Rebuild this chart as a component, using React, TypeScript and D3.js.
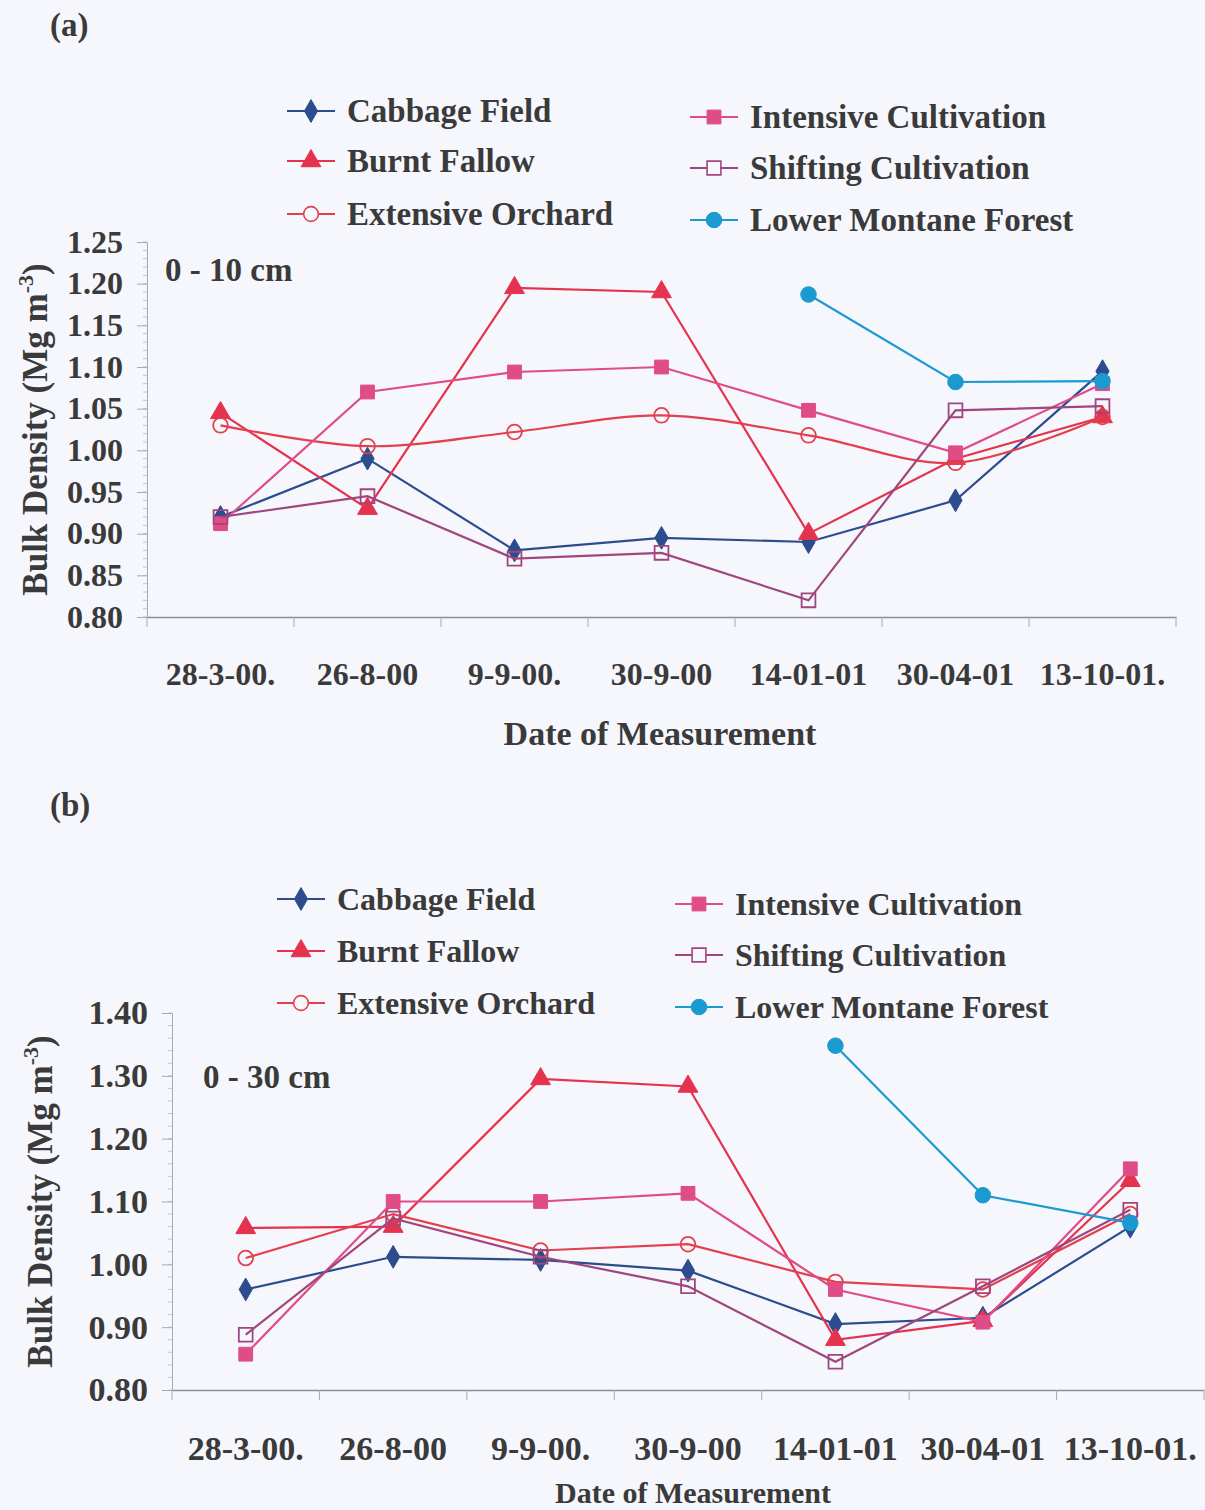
import React, { useEffect, useRef } from "react";
import * as d3 from "d3";

// measurement dates (x categories)
const dates = ["28-3-00.", "26-8-00", "9-9-00.", "30-9-00", "14-01-01", "30-04-01", "13-10-01."];

// panel (a) 0 - 10 cm
const cabbageA = [0.92, 0.99, 0.88, 0.895, 0.89, 0.94, 1.095];
const burntA = [1.045, 0.93, 1.195, 1.19, 0.90, 0.99, 1.04];
const orchardA = [1.03, 1.005, 1.022, 1.042, 1.018, 0.985, 1.04];
const intensiveA = [0.912, 1.07, 1.094, 1.10, 1.048, 0.997, 1.08];
const shiftingA = [0.92, 0.945, 0.87, 0.877, 0.82, 1.048, 1.053];
const forestA = [null, null, null, null, 1.187, 1.082, 1.083];
const yTicksA = [0.8, 0.85, 0.9, 0.95, 1.0, 1.05, 1.1, 1.15, 1.2, 1.25];

// panel (b) 0 - 30 cm
const cabbageB = [0.96, 1.012, 1.007, 0.99, 0.905, 0.915, 1.06];
const burntB = [1.058, 1.06, 1.295, 1.283, 0.88, 0.91, 1.133];
const orchardB = [1.01, 1.08, 1.022, 1.032, 0.972, 0.96, 1.08];
const intensiveB = [0.857, 1.10, 1.10, 1.113, 0.96, 0.908, 1.152];
const shiftingB = [0.888, 1.073, 1.012, 0.965, 0.845, 0.965, 1.087];
const forestB = [null, null, null, null, 1.348, 1.11, 1.066];
const yTicksB = [0.8, 0.9, 1.0, 1.1, 1.2, 1.3, 1.4];

type Val = number | null;

const seriesStyle = [
  { name: "Cabbage Field", color: "#2c4c8e", symbol: d3.symbolDiamond, size: 150, open: false },
  { name: "Burnt Fallow", color: "#e5334f", symbol: d3.symbolTriangle, size: 170, open: false },
  { name: "Extensive Orchard", color: "#e2404c", symbol: d3.symbolCircle, size: 170, open: true },
  { name: "Intensive Cultivation", color: "#df4c86", symbol: d3.symbolSquare, size: 190, open: false },
  { name: "Shifting Cultivation", color: "#a0467e", symbol: d3.symbolSquare, size: 190, open: true },
  { name: "Lower Montane Forest", color: "#1b9ad2", symbol: d3.symbolCircle, size: 190, open: false },
];

const panels = [
  {
    label: "(a)", depth: "0 - 10 cm",
    values: [cabbageA, burntA, orchardA, intensiveA, shiftingA, forestA],
    smooth: [false, false, true, false, false, false],
    yDomain: [0.8, 1.25], yTicks: yTicksA, fmt: ".2f", minorStep: 0.01,
    x0: 147, x1: 1176, yTop: 242, yBottom: 617,
    labelPos: [50, 36], depthPos: [165, 281],
    tickFont: 32, xLabelY: 685, titleY: 745, titleX: 660, titleFont: 34, yTitleX: 47,
    legendFont: 33,
    legend: { c1: 287, c2: 690, r1: [111, 161, 214], r2: [117, 168, 220] },
  },
  {
    label: "(b)", depth: "0 - 30 cm",
    values: [cabbageB, burntB, orchardB, intensiveB, shiftingB, forestB],
    smooth: [false, false, false, false, false, false],
    yDomain: [0.8, 1.4], yTicks: yTicksB, fmt: ".2f", minorStep: 0.02,
    x0: 172, x1: 1204, yTop: 1013, yBottom: 1390,
    labelPos: [50, 816], depthPos: [203, 1088],
    tickFont: 34, xLabelY: 1460, titleY: 1503, titleX: 693, titleFont: 30, yTitleX: 52,
    legendFont: 32,
    legend: { c1: 277, c2: 675, r1: [899, 951, 1003], r2: [904, 955, 1007] },
  },
];

const FONT = "'Liberation Serif', 'Times New Roman', serif";
const INK = "#3a3a3a";
const BG = "#f6f7fc";

export default function App() {
  const svgRef = useRef<SVGSVGElement>(null);

  useEffect(() => {
    const svg = d3.select(svgRef.current);
    svg.selectAll("*").remove();

    svg.append("rect").attr("width", 1205).attr("height", 1510).attr("fill", BG);

    panels.forEach((p) => {
      const g = svg.append("g");
      const x = d3.scaleBand<string>().domain(dates).range([p.x0, p.x1]);
      const y = d3.scaleLinear().domain(p.yDomain).range([p.yBottom, p.yTop]);
      const cx = (d: string) => (x(d) as number) + x.bandwidth() / 2;

      // minor ticks on y axis
      const minor = d3.range(p.yDomain[0], p.yDomain[1] + 1e-9, p.minorStep);
      g.selectAll(".minor").data(minor).enter().append("line")
        .attr("x1", p.x0 - 4).attr("x2", p.x0)
        .attr("y1", (d) => y(d)).attr("y2", (d) => y(d))
        .attr("stroke", "#c4c6cc").attr("stroke-width", 1);

      // y axis
      const yAxis = g.append("g")
        .attr("transform", `translate(${p.x0},0)`)
        .call(d3.axisLeft(y).tickValues(p.yTicks).tickFormat(d3.format(p.fmt)).tickSize(10).tickPadding(14));
      yAxis.select(".domain").attr("stroke", "#a8aab0");
      yAxis.selectAll(".tick line").attr("stroke", "#a8aab0");
      yAxis.selectAll("text")
        .attr("font-family", FONT).attr("font-weight", "bold")
        .attr("font-size", p.tickFont).attr("fill", INK);

      // x axis
      const xAxis = g.append("g")
        .attr("transform", `translate(0,${p.yBottom})`)
        .call(d3.axisBottom(x).tickSize(0).tickFormat(() => ""));
      xAxis.select(".domain").attr("stroke", "#8c8e94").attr("stroke-width", 1.5);
      xAxis.selectAll(".tick").remove();
      const bounds = dates.map((d) => x(d) as number).concat([p.x1]);
      g.selectAll(".xt").data(bounds).enter().append("line")
        .attr("x1", (d) => d).attr("x2", (d) => d)
        .attr("y1", p.yBottom).attr("y2", p.yBottom + 10)
        .attr("stroke", "#a8aab0");

      g.selectAll(".xl").data(dates).enter().append("text")
        .attr("x", (d) => cx(d)).attr("y", p.xLabelY)
        .attr("text-anchor", "middle")
        .attr("font-family", FONT).attr("font-weight", "bold")
        .attr("font-size", p.tickFont).attr("fill", INK)
        .text((d) => d);

      g.append("text")
        .attr("x", p.titleX).attr("y", p.titleY)
        .attr("text-anchor", "middle")
        .attr("font-family", FONT).attr("font-weight", "bold")
        .attr("font-size", p.titleFont).attr("fill", INK)
        .text("Date of Measurement");

      // y title
      const cy = (p.yTop + p.yBottom) / 2;
      const yt = g.append("text")
        .attr("transform", `translate(${p.yTitleX},${cy}) rotate(-90)`)
        .attr("text-anchor", "middle")
        .attr("font-family", FONT).attr("font-weight", "bold")
        .attr("font-size", 35).attr("fill", INK);
      yt.append("tspan").text("Bulk Density (Mg m");
      yt.append("tspan").attr("dy", -14).attr("font-size", 22).text("-3");
      yt.append("tspan").attr("dy", 14).text(")");

      // panel label and depth
      g.append("text")
        .attr("x", p.labelPos[0]).attr("y", p.labelPos[1])
        .attr("font-family", FONT).attr("font-weight", "bold")
        .attr("font-size", 33).attr("fill", INK)
        .text(p.label);
      g.append("text")
        .attr("x", p.depthPos[0]).attr("y", p.depthPos[1])
        .attr("font-family", FONT).attr("font-weight", "bold")
        .attr("font-size", 33).attr("fill", INK)
        .text(p.depth);

      // series lines + markers
      p.values.forEach((vals: Val[], i) => {
        const st = seriesStyle[i];
        const pts = dates.map((d, k) => ({ d, v: vals[k] })).filter((o) => o.v !== null) as { d: string; v: number }[];
        const line = d3.line<{ d: string; v: number }>()
          .x((o) => cx(o.d)).y((o) => y(o.v))
          .curve(p.smooth[i] ? d3.curveCatmullRom.alpha(0.5) : d3.curveLinear);
        g.append("path")
          .datum(pts)
          .attr("d", line)
          .attr("fill", "none")
          .attr("stroke", st.color)
          .attr("stroke-width", 2.2);
        g.selectAll(`.m${i}`).data(pts).enter().append("path")
          .attr("transform", (o) => `translate(${cx(o.d)},${y(o.v)})`)
          .attr("d", d3.symbol().type(st.symbol).size(st.size)())
          .attr("fill", st.open ? BG : st.color)
          .attr("fill-opacity", st.open ? 0 : 1)
          .attr("stroke", st.color)
          .attr("stroke-width", st.open ? 1.8 : 1);
      });

      // legend
      const slots = [
        [p.legend.c1, p.legend.r1[0]], [p.legend.c1, p.legend.r1[1]], [p.legend.c1, p.legend.r1[2]],
        [p.legend.c2, p.legend.r2[0]], [p.legend.c2, p.legend.r2[1]], [p.legend.c2, p.legend.r2[2]],
      ];
      seriesStyle.forEach((st, i) => {
        const [lx, ly] = slots[i];
        const lg = g.append("g").attr("transform", `translate(${lx},${ly})`);
        lg.append("line").attr("x1", 0).attr("x2", 48).attr("y1", 0).attr("y2", 0)
          .attr("stroke", st.color).attr("stroke-width", 2.2);
        lg.append("path")
          .attr("transform", "translate(24,0)")
          .attr("d", d3.symbol().type(st.symbol).size(st.size)())
          .attr("fill", st.open ? BG : st.color)
          .attr("stroke", st.color)
          .attr("stroke-width", st.open ? 1.6 : 1);
        lg.append("text")
          .attr("x", 60).attr("y", 11)
          .attr("font-family", FONT).attr("font-weight", "bold")
          .attr("font-size", p.legendFont).attr("fill", INK)
          .text(st.name);
      });
    });
  }, []);

  return (
    <svg
      ref={svgRef}
      width={1205}
      height={1510}
      style={{ position: "absolute", left: 0, top: 0 }}
    />
  );
}
